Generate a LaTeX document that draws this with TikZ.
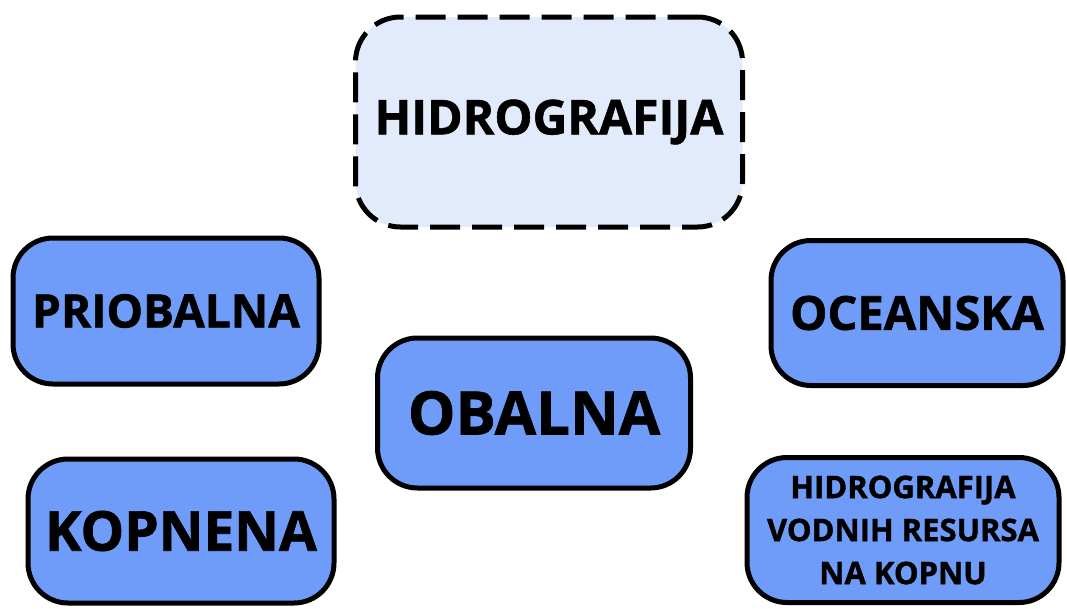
\documentclass[tikz,border=0pt]{standalone}
\usepackage{fontspec}
\setmainfont{Open Sans}[BoldFeatures={FakeBold=1.2}]
\definecolor{boxblue}{HTML}{6E9CF8}
\definecolor{lightblue}{HTML}{E1EBFB}
\begin{document}
\begin{tikzpicture}[x=1pt,y=-1pt,
  bluebox/.style={draw=black, line width=5pt, fill=boxblue, rounded corners=40pt,
     rectangle, inner sep=0pt, align=center},
  mainbox/.style={draw=black, line width=5pt, fill=lightblue, rounded corners=45pt,
     rectangle, inner sep=0pt, align=center,
     dash pattern=on 30pt off 12pt}]
\useasboundingbox (0,0) rectangle (1067,608);
\node[mainbox, minimum width=387pt, minimum height=210pt,
  font=\fontsize{48}{50}\selectfont\bfseries] (hidro) at (549,122) {HIDROGRAFIJA};
\node[bluebox, minimum width=306pt, minimum height=146pt,
  font=\fontsize{46}{48}\selectfont\bfseries] (prio) at (166,311) {PRIOBALNA};
\node[bluebox, minimum width=306pt, minimum height=144pt,
  font=\fontsize{55}{58}\selectfont\bfseries] (kopn) at (181,531) {KOPNENA};
\node[bluebox, minimum width=313pt, minimum height=150pt,
  font=\fontsize{60}{62}\selectfont\bfseries] (obal) at (534,413) {OBALNA};
\node[bluebox, minimum width=292pt, minimum height=145pt,
  font=\fontsize{47}{50}\selectfont\bfseries] (ocean) at (917,313) {OCEANSKA};
\node[bluebox, minimum width=312pt, minimum height=145pt,
  font=\fontsize{31}{43}\selectfont\bfseries] (hvr) at (903,530)
  {HIDROGRAFIJA\\VODNIH RESURSA\\NA KOPNU};
\end{tikzpicture}
\end{document}
